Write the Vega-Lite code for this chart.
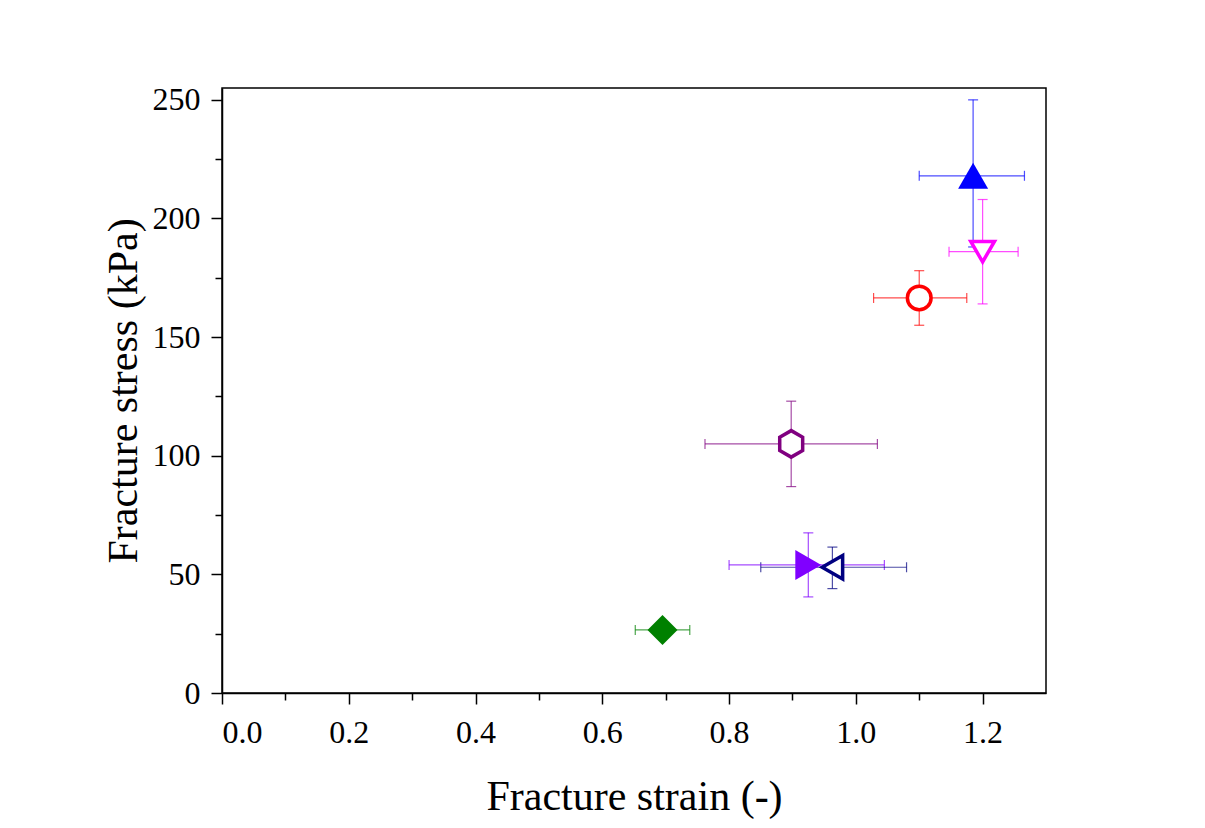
{
  "$schema": "https://vega.github.io/schema/vega-lite/v6.json",
  "autosize": {"type": "none"},
  "padding": {"left": 222, "top": 88, "right": 159, "bottom": 135},
  "width": 824,
  "height": 605,
  "background": "white",
  "config": {
    "view": {"stroke": "black", "strokeWidth": 1.5},
    "axis": {
      "labelFont": "Liberation Serif",
      "titleFont": "Liberation Serif",
      "labelColor": "black",
      "titleColor": "black",
      "labelFontSize": 32,
      "titleFontSize": 42,
      "titleFontWeight": "normal",
      "domainColor": "black",
      "domainWidth": 1.5,
      "tickColor": "black",
      "tickWidth": 1.5,
      "grid": false
    }
  },
  "data": {
    "values": [
      {"series": "A", "strain": 0.695, "stress": 26.6, "strain_lo": 0.652, "strain_hi": 0.738, "stress_lo": 24.5, "stress_hi": 28.7},
      {"series": "B", "strain": 0.925, "stress": 54.0, "strain_lo": 0.80, "strain_hi": 1.045, "stress_lo": 40.5, "stress_hi": 67.5},
      {"series": "C", "strain": 0.963, "stress": 53.0, "strain_lo": 0.85, "strain_hi": 1.08, "stress_lo": 44.0, "stress_hi": 61.5},
      {"series": "D", "strain": 0.898, "stress": 105.0, "strain_lo": 0.762, "strain_hi": 1.034, "stress_lo": 87.0, "stress_hi": 123.0},
      {"series": "E", "strain": 1.10, "stress": 166.5, "strain_lo": 1.028, "strain_hi": 1.175, "stress_lo": 155.0, "stress_hi": 178.0},
      {"series": "F", "strain": 1.185, "stress": 218.0, "strain_lo": 1.10, "strain_hi": 1.266, "stress_lo": 188.0, "stress_hi": 250.0},
      {"series": "G", "strain": 1.20, "stress": 186.0, "strain_lo": 1.147, "strain_hi": 1.256, "stress_lo": 164.0, "stress_hi": 208.0}
    ]
  },
  "resolve": {"axis": {"x": "independent", "y": "independent"}},
  "layer": [
    {
      "mark": {"type": "errorbar", "ticks": {"size": 10}, "thickness": 1.2, "opacity": 0.7},
      "encoding": {
        "x": {
          "field": "strain_lo", "type": "quantitative",
          "scale": {"domain": [0, 1.3], "nice": false, "zero": false},
          "axis": {"orient": "bottom", "values": [0, 0.2, 0.4, 0.6, 0.8, 1.0, 1.2], "format": ".1f", "tickSize": 11, "labelPadding": 13, "title": "Fracture strain (-)", "titlePadding": 28}
        },
        "x2": {"field": "strain_hi"},
        "y": {
          "field": "stress", "type": "quantitative",
          "scale": {"domain": [0, 255], "nice": false, "zero": false},
          "axis": {"orient": "left", "values": [0, 50, 100, 150, 200, 250], "tickSize": 11, "labelPadding": 11, "title": "Fracture stress (kPa)", "titlePadding": 7}
        },
        "color": {
          "field": "series", "type": "nominal", "legend": null,
          "scale": {"domain": ["A", "B", "C", "D", "E", "F", "G"], "range": ["#008000", "#8000ff", "#000080", "#800080", "#ff0000", "#0000ff", "#ff00ff"]}
        }
      }
    },
    {
      "mark": {"type": "errorbar", "ticks": {"size": 10}, "thickness": 1.2, "opacity": 0.7},
      "encoding": {
        "x": {
          "field": "strain", "type": "quantitative",
          "axis": {"orient": "bottom", "values": [0.1, 0.3, 0.5, 0.7, 0.9, 1.1], "labels": false, "domain": false, "tickSize": 7, "title": null}
        },
        "y": {
          "field": "stress_lo", "type": "quantitative",
          "axis": {"orient": "left", "values": [25, 75, 125, 175, 225], "labels": false, "domain": false, "tickSize": 7, "title": null}
        },
        "y2": {"field": "stress_hi"},
        "color": {"field": "series", "type": "nominal", "legend": null}
      }
    },
    {
      "transform": [{"filter": {"field": "series", "oneOf": ["A", "B", "F"]}}],
      "mark": {"type": "point", "filled": true, "opacity": 1, "size": 900},
      "encoding": {
        "x": {"field": "strain", "type": "quantitative", "axis": null},
        "y": {"field": "stress", "type": "quantitative", "axis": null},
        "color": {"field": "series", "type": "nominal", "legend": null},
        "shape": {
          "field": "series", "type": "nominal", "legend": null,
          "scale": {
            "domain": ["A", "B", "C", "D", "E", "F", "G"],
            "range": ["diamond", "triangle-right", "triangle-left", "M0,-1.12L0.97,-0.56L0.97,0.56L0,1.12L-0.97,0.56L-0.97,-0.56Z", "circle", "triangle-up", "triangle-down"]
          }
        }
      }
    },
    {
      "transform": [{"filter": {"field": "series", "oneOf": ["C", "D", "E", "G"]}}],
      "mark": {"type": "point", "filled": true, "fill": "white", "opacity": 1, "strokeWidth": 3.5, "size": 560},
      "encoding": {
        "x": {"field": "strain", "type": "quantitative", "axis": null},
        "y": {"field": "stress", "type": "quantitative", "axis": null},
        "stroke": {
          "field": "series", "type": "nominal", "legend": null,
          "scale": {"domain": ["A", "B", "C", "D", "E", "F", "G"], "range": ["#008000", "#8000ff", "#000080", "#800080", "#ff0000", "#0000ff", "#ff00ff"]}
        },
        "shape": {"field": "series", "type": "nominal", "legend": null}
      }
    }
  ]
}
